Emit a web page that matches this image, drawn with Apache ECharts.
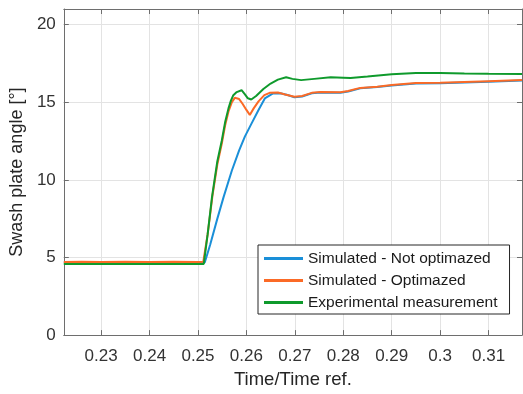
<!DOCTYPE html>
<html>
<head>
<meta charset="utf-8">
<script src="https://cdn.jsdelivr.net/npm/echarts@6/dist/echarts.min.js"></script>
<style>html,body{margin:0;padding:0;background:#fff;}#c{width:523px;height:394px;}</style>
</head>
<body>
<div id="c"></div>
<script>
// ---- data ----
const seriesNames = ['Simulated - Not optimazed', 'Simulated - Optimazed', 'Experimental measurement'];

const tNotOpt = [0.2223,0.2260,0.2300,0.2350,0.2400,0.2450,0.2500,0.2514,0.2525,0.2540,0.2553,0.2570,0.2585,0.2597,0.2611,0.2625,0.2638,0.2655,0.2670,0.2685,0.2699,0.2715,0.2735,0.2753,0.2794,0.2810,0.2835,0.2870,0.2900,0.2950,0.3000,0.3050,0.3100,0.3169];
const vNotOpt = [4.68,4.69,4.68,4.69,4.68,4.69,4.68,4.68,5.8,7.5,8.9,10.6,11.9,12.8,13.65,14.5,15.24,15.56,15.58,15.46,15.32,15.37,15.57,15.63,15.61,15.69,15.89,15.97,16.07,16.2,16.22,16.27,16.32,16.39];

const tOpt = [0.2223,0.2260,0.2300,0.2350,0.2400,0.2450,0.2500,0.2511,0.2520,0.2530,0.2540,0.2549,0.2556,0.2563,0.2570,0.2576,0.2585,0.2592,0.2600,0.2607,0.2615,0.2625,0.2637,0.2648,0.2665,0.2680,0.2699,0.2715,0.2735,0.2753,0.2794,0.2810,0.2835,0.2870,0.2900,0.2950,0.3000,0.3050,0.3100,0.3169];
const vOpt = [4.71,4.73,4.70,4.73,4.71,4.73,4.71,4.73,6.5,9.0,11.0,12.3,13.5,14.4,15.0,15.28,15.2,14.9,14.5,14.18,14.6,15.05,15.45,15.6,15.62,15.5,15.35,15.4,15.6,15.66,15.64,15.72,15.92,16.0,16.1,16.23,16.25,16.3,16.35,16.42];

const tExp = [0.2223,0.2300,0.2400,0.2500,0.2512,0.2520,0.2529,0.2540,0.2549,0.2556,0.2563,0.2568,0.2573,0.2580,0.2590,0.2597,0.2603,0.2610,0.2620,0.2635,0.2650,0.2665,0.2682,0.2695,0.2713,0.2740,0.2774,0.2800,0.2815,0.2850,0.2900,0.2950,0.3000,0.3050,0.3100,0.3169];
const vExp = [4.58,4.58,4.58,4.58,4.58,6.5,8.9,11.2,12.5,13.7,14.6,15.1,15.45,15.65,15.77,15.5,15.25,15.17,15.4,15.85,16.2,16.45,16.6,16.5,16.42,16.5,16.6,16.57,16.55,16.65,16.8,16.88,16.88,16.85,16.83,16.82];

const xMin = 0.2223, xMax = 0.3169;
const yMin = 0, yMax = 21, yStep = 5;

function zip(t, v) { return t.map((x, i) => [x, v[i]]); }

const font = 'Liberation Sans, Arial, Helvetica, sans-serif';
const axisColor = '#6e6e6e';
const gridColor = '#e3e3e3';

const chart = echarts.init(document.getElementById('c'));
chart.setOption({
  animation: false,
  backgroundColor: '#fff',
  grid: { left: 60, right: 1, top: 9, bottom: 54, containLabel: false },
  legend: {
    orient: 'vertical',
    left: 258, top: 245,
    padding: [5, 12, 3, 6],
    itemGap: 5,
    itemWidth: 39, itemHeight: 3,
    icon: 'rect',
    backgroundColor: '#fff',
    borderColor: '#262626', borderWidth: 1,
    textStyle: { fontFamily: font, fontSize: 15.5, color: '#1a1a1a', lineHeight: 17 },
    data: seriesNames
  },
  xAxis: [{
    type: 'value', min: xMin, max: xMax, splitNumber: 10,
    name: 'Time/Time ref.', nameLocation: 'middle', nameGap: 32,
    nameTextStyle: { fontFamily: font, fontSize: 18.5, color: '#262626' },
    axisLine: { show: true, onZero: false, lineStyle: { color: axisColor, width: 1 } },
    axisTick: { show: true, inside: true, length: 5, lineStyle: { color: axisColor } },
    axisLabel: { fontFamily: font, fontSize: 17, color: '#333', margin: 13, showMinLabel: false, showMaxLabel: false },
    splitLine: { show: true, lineStyle: { color: gridColor, width: 1 } }
  }, {
    type: 'value', position: 'top', min: xMin, max: xMax, splitNumber: 10,
    axisLine: { show: true, onZero: false, lineStyle: { color: axisColor, width: 1 } },
    axisTick: { show: true, inside: true, length: 5, lineStyle: { color: axisColor } },
    axisLabel: { show: false }, splitLine: { show: false }
  }],
  yAxis: [{
    type: 'value', min: yMin, max: yMax, interval: yStep,
    name: 'Swash plate angle [°]', nameLocation: 'middle', nameGap: 36, nameRotate: 90,
    nameTextStyle: { fontFamily: font, fontSize: 18, color: '#262626' },
    axisLine: { show: true, onZero: false, lineStyle: { color: axisColor, width: 1 } },
    axisTick: { show: true, inside: true, length: 5, lineStyle: { color: axisColor } },
    axisLabel: { fontFamily: font, fontSize: 17, color: '#333', margin: 8, showMaxLabel: false },
    splitLine: { show: true, lineStyle: { color: gridColor, width: 1 } }
  }, {
    type: 'value', position: 'right', min: yMin, max: yMax, interval: yStep,
    axisLine: { show: true, onZero: false, lineStyle: { color: axisColor, width: 1 } },
    axisTick: { show: true, inside: true, length: 5, lineStyle: { color: axisColor } },
    axisLabel: { show: false }, splitLine: { show: false }
  }],
  series: [
    { name: seriesNames[0], type: 'line', data: zip(tNotOpt, vNotOpt), showSymbol: false, symbol: 'none',
      lineStyle: { width: 2, color: '#1a8fd8' }, itemStyle: { color: '#1a8fd8' } },
    { name: seriesNames[1], type: 'line', data: zip(tOpt, vOpt), showSymbol: false, symbol: 'none',
      lineStyle: { width: 2, color: '#fb6a26' }, itemStyle: { color: '#fb6a26' } },
    { name: seriesNames[2], type: 'line', data: zip(tExp, vExp), showSymbol: false, symbol: 'none',
      lineStyle: { width: 2, color: '#0f9a2c' }, itemStyle: { color: '#0f9a2c' } }
  ]
});
</script>
</body>
</html>
